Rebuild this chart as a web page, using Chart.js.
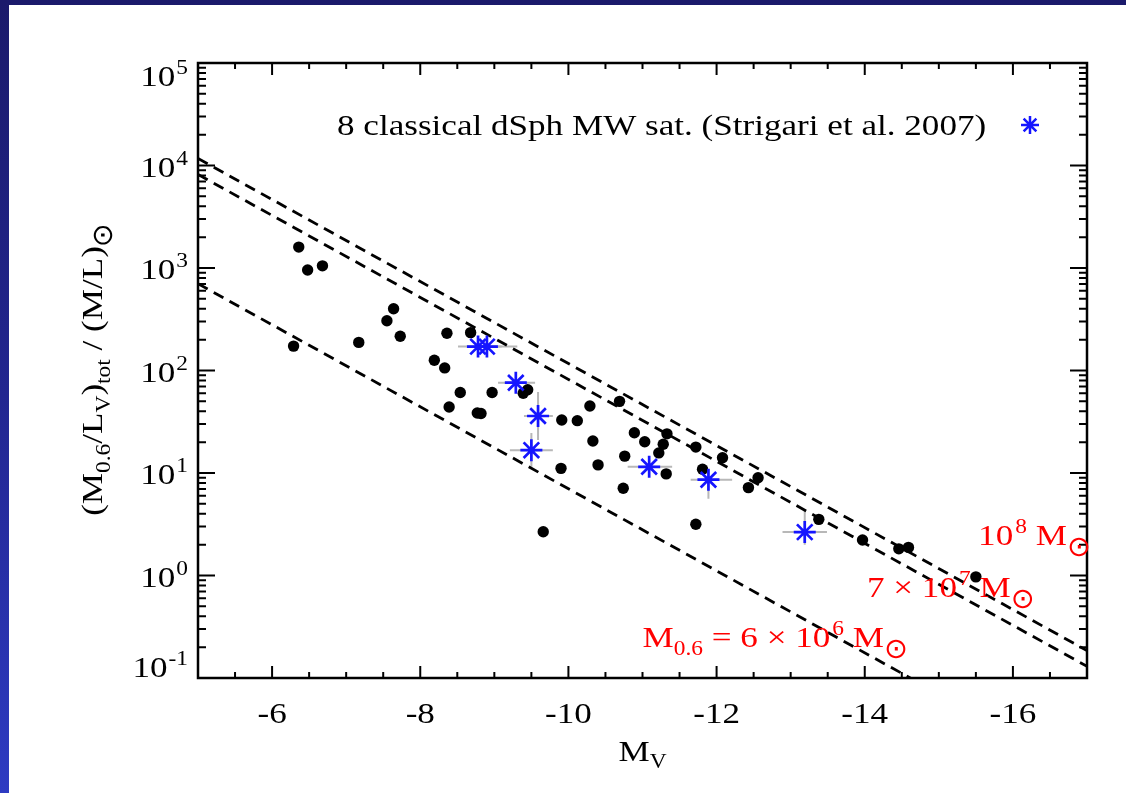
<!DOCTYPE html>
<html>
<head>
<meta charset="utf-8">
<script src="https://cdn.jsdelivr.net/npm/chart.js@4.4.0/dist/chart.umd.min.js"></script>
<style>
html, body { margin: 0; padding: 0; }
body {
    width: 1126px; height: 793px; overflow: hidden; position: relative;
    background: linear-gradient(to bottom, #1b1a6b 0%, #222690 50%, #2e3bc2 100%);
}
#panel { position: absolute; left: 9px; top: 5px; right: 0; bottom: 0; background: #fff; }
#grafica { position: absolute; left: 0; top: 0; }
</style>
</head>
<body>
<div id="panel"></div>
<canvas id="grafica" width="1126" height="793"></canvas>
<script>
// --- DATOS: satélites (M_V, M/L) ---
const puntosMv = [-6.36, -6.48, -6.68, -6.29, -7.17, -7.55, -7.64, -7.73, -8.36, -8.68,
    -8.19, -8.33, -8.54, -8.97, -9.39, -9.45, -8.39, -8.77, -8.82, -9.91,
    -10.12, -10.29, -10.69, -10.33, -9.90, -10.40, -10.89, -11.03, -11.33, -11.28,
    -11.22, -10.76, -11.32, -10.74, -9.66, -11.72, -11.72, -12.08, -11.81, -12.56,
    -12.43, -13.38, -13.97, -14.46, -14.59, -15.50];
const puntosML = [1600, 955, 1050, 173, 188, 306, 401, 216, 231, 234,
    126, 106, 61, 61, 60, 65, 44, 38.5, 38, 32.9,
    32.4, 45, 50, 20.5, 11.1, 12, 24.7, 20.2, 24.1, 19.1,
    15.7, 14.6, 9.8, 7.1, 2.67, 17.9, 3.16, 14.1, 10.9, 9.0,
    7.2, 3.53, 2.22, 1.82, 1.88, 0.97];

// 8 dSph clásicas (Strigari et al. 2007) con barras de error
const clasicasMv = [-8.78, -8.90, -9.29, -9.59, -9.50, -11.09, -11.89, -13.19];
const clasicasML = [171, 171, 76, 36, 16.7, 11.5, 8.6, 2.65];
const errMvMin = [-8.51, -8.62, -9.05, -9.40, -9.21, -10.80, -11.65, -12.89];
const errMvMax = [-9.10, -9.31, -9.55, -9.79, -9.79, -11.40, -12.21, -13.49];
const errMLMin = [160, 160, 71, 21, 11.5, 10.8, 5.6, 1.99];
const errMLMax = [182, 182, 81, 61.6, 24.5, 12.2, 10.9, 4.35];

// líneas de masa constante (extremos en M_V = -5 y -17)
const lineaMv = [-5, -17];
const linea1e8 = [11700, 0.185];
const linea7e7 = [8180, 0.130];
const linea6e6 = [702, 0.0111];

// ticks
const xTickMayor = [-6, -8, -10, -12, -14, -16];
const xTickEtiquetas = ["-6", "-8", "-10", "-12", "-14", "-16"];
const yExponentes = [-1, 0, 1, 2, 3, 4, 5];
const yFactoresMenor = [2, 3, 4, 5, 6, 7, 8, 9];

// --- TEXTO ---
const FUENTE = '"Liberation Serif", "Times New Roman", serif';
const FUENTE_SOL = '"DejaVu Sans", "DejaVu Serif", sans-serif';
const SX = 1.17;   // el texto del original es algo más ancho que Times
const T = 30;      // tamaño normal
const S = 20;      // super/subíndices

function medirSol(ctx, d) {
    ctx.font = '100px ' + FUENTE_SOL;
    const m = ctx.measureText('⊙');
    const ancho = m.actualBoundingBoxLeft + m.actualBoundingBoxRight;
    return 100 * d / ancho;
}

function textoRico(ctx, runs, x, y, align, color) {
    let total = 0;
    runs.forEach(r => {
        if (r.sol) {
            r.size = medirSol(ctx, r.d);
            ctx.font = r.size + 'px ' + FUENTE_SOL;
            const m = ctx.measureText('⊙');
            r.m = m;
            r.w = m.actualBoundingBoxLeft + m.actualBoundingBoxRight;
        } else {
            ctx.font = r.s + 'px ' + FUENTE;
            r.w = ctx.measureText(r.t).width * SX;
        }
        total += r.w + (r.gap || 0);
    });
    let cx = align === 'right' ? x - total : align === 'center' ? x - total / 2 : x;
    ctx.fillStyle = color;
    ctx.textAlign = 'left';
    ctx.textBaseline = 'alphabetic';
    runs.forEach(r => {
        cx += r.gap || 0;
        if (r.sol) {
            ctx.font = r.size + 'px ' + FUENTE_SOL;
            const yy = y + (r.dy || 0) + (r.m.actualBoundingBoxAscent - r.m.actualBoundingBoxDescent) / 2;
            ctx.fillText('⊙', cx + r.m.actualBoundingBoxLeft, yy);
        } else {
            ctx.font = r.s + 'px ' + FUENTE;
            ctx.save();
            ctx.translate(cx, y + (r.dy || 0));
            ctx.scale(SX, 1);
            ctx.fillText(r.t, 0, 0);
            ctx.restore();
        }
        cx += r.w;
    });
}

function estrella(ctx, x, y, r) {
    ctx.beginPath();
    for (let k = 0; k < 4; k++) {
        const ang = k * Math.PI / 4;
        ctx.moveTo(x - r * Math.cos(ang), y - r * Math.sin(ang));
        ctx.lineTo(x + r * Math.cos(ang), y + r * Math.sin(ang));
    }
    ctx.stroke();
}

// --- EJES ESTILO IDL (ticks hacia dentro en los 4 lados) ---
const ejesPlugin = {
    id: 'ejesIDL',
    beforeDatasetsDraw(chart) {
        const { ctx, chartArea: a, scales: { x, y } } = chart;
        ctx.save();
        ctx.beginPath();
        ctx.rect(a.left, a.top, a.right - a.left, a.bottom - a.top);
        ctx.clip();
        ctx.strokeStyle = '#b8b8b8';
        ctx.lineWidth = 2;
        clasicasMv.forEach((mv, i) => {
            const px = x.getPixelForValue(mv);
            const py = y.getPixelForValue(clasicasML[i]);
            ctx.beginPath();
            ctx.moveTo(x.getPixelForValue(errMvMin[i]), py);
            ctx.lineTo(x.getPixelForValue(errMvMax[i]), py);
            ctx.moveTo(px, y.getPixelForValue(errMLMin[i]));
            ctx.lineTo(px, y.getPixelForValue(errMLMax[i]));
            ctx.stroke();
        });
        ctx.restore();
    },
    afterDatasetsDraw(chart) {
        const { ctx, chartArea: a, scales: { x, y } } = chart;
        ctx.save();
        ctx.strokeStyle = '#000';
        ctx.lineWidth = 2;
        ctx.beginPath();
        // eje x
        for (let v = -5; v >= -17; v -= 0.5) {
            const px = x.getPixelForValue(v);
            const len = xTickMayor.includes(v) ? 12 : 6;
            ctx.moveTo(px, a.bottom); ctx.lineTo(px, a.bottom - len);
            ctx.moveTo(px, a.top); ctx.lineTo(px, a.top + len);
        }
        // eje y
        yExponentes.forEach(e => {
            const py = y.getPixelForValue(Math.pow(10, e));
            ctx.moveTo(a.left, py); ctx.lineTo(a.left + 17, py);
            ctx.moveTo(a.right, py); ctx.lineTo(a.right - 17, py);
            if (e === 5) return;
            yFactoresMenor.forEach(f => {
                const pm = y.getPixelForValue(f * Math.pow(10, e));
                ctx.moveTo(a.left, pm); ctx.lineTo(a.left + 8, pm);
                ctx.moveTo(a.right, pm); ctx.lineTo(a.right - 8, pm);
            });
        });
        ctx.stroke();
        ctx.lineWidth = 2.5;
        ctx.strokeRect(a.left, a.top, a.right - a.left, a.bottom - a.top);
        ctx.restore();
    },
    afterDraw(chart) {
        const { ctx, chartArea: a, scales: { x, y } } = chart;
        ctx.save();
        // etiquetas eje y
        yExponentes.forEach(e => {
            let py = y.getPixelForValue(Math.pow(10, e));
            py = Math.min(Math.max(py, a.top + 12), a.bottom - 12);
            textoRico(ctx, [{ t: '10', s: T }, { t: String(e), s: S, dy: -12, gap: 1 }],
                a.left - 10, py + 11, 'right', '#000');
        });
        // etiquetas eje x
        xTickMayor.forEach((v, i) => {
            textoRico(ctx, [{ t: xTickEtiquetas[i], s: T }], x.getPixelForValue(v), 723, 'center', '#000');
        });
        // título x
        textoRico(ctx, [{ t: 'M', s: T }, { t: 'V', s: S, dy: 7 }], (a.left + a.right) / 2, 761, 'center', '#000');
        // título y
        ctx.save();
        ctx.translate(102, (a.top + a.bottom) / 2);
        ctx.rotate(-Math.PI / 2);
        textoRico(ctx, [
            { t: '(M', s: T }, { t: '0.6', s: S, dy: 8 }, { t: '/L', s: T }, { t: 'V', s: S, dy: 8 },
            { t: ')', s: T }, { t: 'tot', s: S, dy: 8 }, { t: ' / (M/L)', s: T }, { sol: true, d: 19, dy: 1, gap: 1 }
        ], 0, 0, 'center', '#000');
        ctx.restore();
        // leyenda
        textoRico(ctx, [{ t: '8 classical dSph MW sat. (Strigari et al. 2007)', s: T }], 337, 135, 'left', '#000');
        ctx.strokeStyle = '#1515ff';
        ctx.lineWidth = 2.5;
        estrella(ctx, 1030, 125, 9);
        // rótulos de masa
        const rojo = '#ff0000';
        textoRico(ctx, [{ t: '10', s: T }, { t: '8', s: S, dy: -12, gap: 2 }, { t: ' M', s: T }, { sol: true, d: 19, dy: 2, gap: 2 }],
            x.getPixelForValue(-15.53), y.getPixelForValue(1.99), 'left', rojo);
        textoRico(ctx, [{ t: '7 × 10', s: T }, { t: '7', s: S, dy: -12, gap: 2 }, { t: ' M', s: T }, { sol: true, d: 19, dy: 2, gap: 2 }],
            x.getPixelForValue(-14.03), y.getPixelForValue(0.617), 'left', rojo);
        textoRico(ctx, [{ t: 'M', s: T }, { t: '0.6', s: S, dy: 8 }, { t: ' = 6 × 10', s: T }, { t: '6', s: S, dy: -12, gap: 2 },
            { t: ' M', s: T }, { sol: true, d: 19, dy: 2, gap: 2 }],
            x.getPixelForValue(-11.0), y.getPixelForValue(0.2), 'left', rojo);
        ctx.restore();
    }
};

function pares(xs, ys) {
    return xs.map((v, i) => ({ x: v, y: ys[i] }));
}

function lineaMasa(valores) {
    return {
        data: pares(lineaMv, valores),
        showLine: true,
        borderColor: '#000',
        borderWidth: 2.8,
        borderDash: [11, 7],
        pointRadius: 0,
        fill: false,
        clip: 0
    };
}

// --- GRÁFICA ---
const grafica = new Chart(document.getElementById('grafica'), {
    type: 'scatter',
    data: {
        datasets: [
            {
                data: pares(clasicasMv, clasicasML),
                pointStyle: 'star',
                pointRadius: 11,
                borderColor: '#1515ff',
                backgroundColor: '#1515ff',
                borderWidth: 2.7
            },
            {
                data: pares(puntosMv, puntosML),
                pointRadius: 5.7,
                backgroundColor: '#000',
                borderWidth: 0
            },
            lineaMasa(linea1e8),
            lineaMasa(linea7e7),
            lineaMasa(linea6e6)
        ]
    },
    options: {
        responsive: false,
        animation: false,
        devicePixelRatio: 1,
        layout: { padding: { left: 198, right: 39, top: 63, bottom: 115 } },
        plugins: { legend: { display: false }, tooltip: { enabled: false } },
        scales: {
            x: { type: 'linear', min: -17, max: -5, reverse: true, display: false },
            y: { type: 'logarithmic', min: 0.1, max: 100000, display: false }
        }
    },
    plugins: [ejesPlugin]
});
</script>
</body>
</html>
